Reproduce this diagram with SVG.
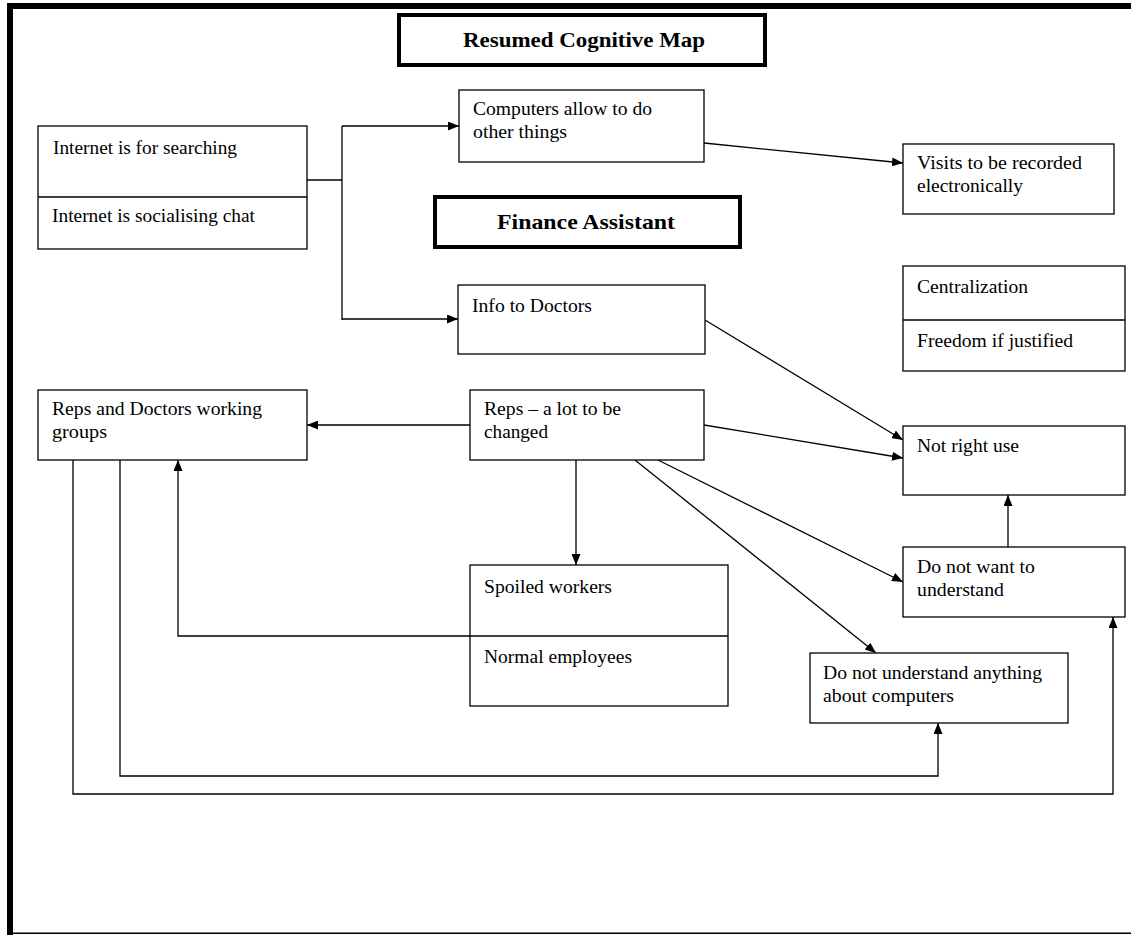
<svg xmlns="http://www.w3.org/2000/svg" width="1131" height="935" viewBox="0 0 1131 935">
  <style>
    .box { fill: #ffffff; stroke: #000000; stroke-width: 1.3; }
    .title { fill: #ffffff; stroke: #000000; stroke-width: 4; }
    .div { stroke: #000000; stroke-width: 1.3; }
    .lbl { font-family: "Liberation Serif", "Times New Roman", serif; font-size: 19px; fill: #000000; }
    .hdr { font-family: "Liberation Serif", "Times New Roman", serif; font-size: 21px; font-weight: bold; fill: #000000; }
    .con { fill: none; stroke: #000000; stroke-width: 1.3; }
    .arr { marker-end: url(#head); }
  </style>
  <defs>
    <marker id="head" markerWidth="11" markerHeight="9" refX="11" refY="4.5" orient="auto" markerUnits="userSpaceOnUse">
      <path d="M0,0 L11,4.5 L0,9 z" fill="#000000"/>
    </marker>
  </defs>

  <rect x="0" y="0" width="1131" height="935" fill="#ffffff"/>

  <!-- page frame -->
  <g id="frame">
    <rect x="7" y="3" width="1124" height="6" fill="#000000"/>
    <rect x="7" y="3" width="6" height="932" fill="#000000"/>
    <rect x="7" y="932.5" width="1124" height="1.5" fill="#000000"/>
  </g>

  <!-- connectors -->
  <g id="connectors">
    <path class="con" d="M307,180 H342"/>
    <path class="con" d="M342,126 V320"/>
    <path class="con arr" d="M342,126 H459"/>
    <path class="con arr" d="M342,319 H458"/>
    <path class="con arr" d="M704,143 L903,163"/>
    <path class="con arr" d="M705,320 L903,440"/>
    <path class="con arr" d="M470,425 H307"/>
    <path class="con arr" d="M704,425 L903,458"/>
    <path class="con arr" d="M576,460 V565"/>
    <path class="con arr" d="M658,460 L903,582"/>
    <path class="con arr" d="M635,460 L876,653"/>
    <path class="con arr" d="M1008,547 V495"/>
    <path class="con arr" d="M470,636 H178 V460"/>
    <path class="con arr" d="M120,460 V776 H938 V723"/>
    <path class="con arr" d="M73,460 V794 H1113 V617"/>
  </g>

  <!-- headings -->
  <g id="heading-map">
    <rect class="title" x="399" y="15" width="366" height="50"/>
    <text class="hdr" x="463" y="47" textLength="242" lengthAdjust="spacingAndGlyphs">Resumed Cognitive Map</text>
  </g>
  <g id="heading-finance">
    <rect class="title" x="435" y="197" width="305" height="50"/>
    <text class="hdr" x="497" y="229" textLength="178" lengthAdjust="spacingAndGlyphs">Finance Assistant</text>
  </g>

  <!-- nodes -->
  <g id="internet">
    <rect class="box" x="38" y="126" width="269" height="123"/>
    <line class="div" x1="38" y1="197" x2="307" y2="197"/>
    <text class="lbl" x="53" y="154" textLength="184" lengthAdjust="spacingAndGlyphs">Internet is for searching</text>
    <text class="lbl" x="52" y="222" textLength="203" lengthAdjust="spacingAndGlyphs">Internet is socialising chat</text>
  </g>

  <g id="computers">
    <rect class="box" x="459" y="90" width="245" height="72"/>
    <text class="lbl" x="473" y="115" textLength="179" lengthAdjust="spacingAndGlyphs">Computers allow to do</text>
    <text class="lbl" x="473" y="138" textLength="94" lengthAdjust="spacingAndGlyphs">other things</text>
  </g>

  <g id="visits">
    <rect class="box" x="903" y="144" width="211" height="70"/>
    <text class="lbl" x="917" y="169" textLength="165" lengthAdjust="spacingAndGlyphs">Visits to be recorded</text>
    <text class="lbl" x="917" y="192" textLength="106" lengthAdjust="spacingAndGlyphs">electronically</text>
  </g>

  <g id="info-doctors">
    <rect class="box" x="458" y="285" width="247" height="69"/>
    <text class="lbl" x="472" y="312" textLength="120" lengthAdjust="spacingAndGlyphs">Info to Doctors</text>
  </g>

  <g id="centralization">
    <rect class="box" x="903" y="266" width="222" height="105"/>
    <line class="div" x1="903" y1="320" x2="1125" y2="320"/>
    <text class="lbl" x="917" y="293" textLength="111" lengthAdjust="spacingAndGlyphs">Centralization</text>
    <text class="lbl" x="917" y="347" textLength="156" lengthAdjust="spacingAndGlyphs">Freedom if justified</text>
  </g>

  <g id="working-groups">
    <rect class="box" x="38" y="390" width="269" height="70"/>
    <text class="lbl" x="52" y="415" textLength="210" lengthAdjust="spacingAndGlyphs">Reps and Doctors working</text>
    <text class="lbl" x="52" y="438" textLength="55" lengthAdjust="spacingAndGlyphs">groups</text>
  </g>

  <g id="reps">
    <rect class="box" x="470" y="390" width="234" height="70"/>
    <text class="lbl" x="484" y="415" textLength="137" lengthAdjust="spacingAndGlyphs">Reps – a lot to be</text>
    <text class="lbl" x="484" y="438" textLength="64" lengthAdjust="spacingAndGlyphs">changed</text>
  </g>

  <g id="workers">
    <rect class="box" x="470" y="565" width="258" height="141"/>
    <line class="div" x1="470" y1="636" x2="728" y2="636"/>
    <text class="lbl" x="484" y="593" textLength="128" lengthAdjust="spacingAndGlyphs">Spoiled workers</text>
    <text class="lbl" x="484" y="663" textLength="148" lengthAdjust="spacingAndGlyphs">Normal employees</text>
  </g>

  <g id="not-right-use">
    <rect class="box" x="903" y="426" width="222" height="69"/>
    <text class="lbl" x="917" y="452" textLength="102" lengthAdjust="spacingAndGlyphs">Not right use</text>
  </g>

  <g id="not-want">
    <rect class="box" x="903" y="547" width="222" height="70"/>
    <text class="lbl" x="917" y="573" textLength="118" lengthAdjust="spacingAndGlyphs">Do not want to</text>
    <text class="lbl" x="917" y="596" textLength="87" lengthAdjust="spacingAndGlyphs">understand</text>
  </g>

  <g id="not-understand">
    <rect class="box" x="810" y="653" width="258" height="70"/>
    <text class="lbl" x="823" y="679" textLength="219" lengthAdjust="spacingAndGlyphs">Do not understand anything</text>
    <text class="lbl" x="823" y="702" textLength="131" lengthAdjust="spacingAndGlyphs">about computers</text>
  </g>
</svg>
